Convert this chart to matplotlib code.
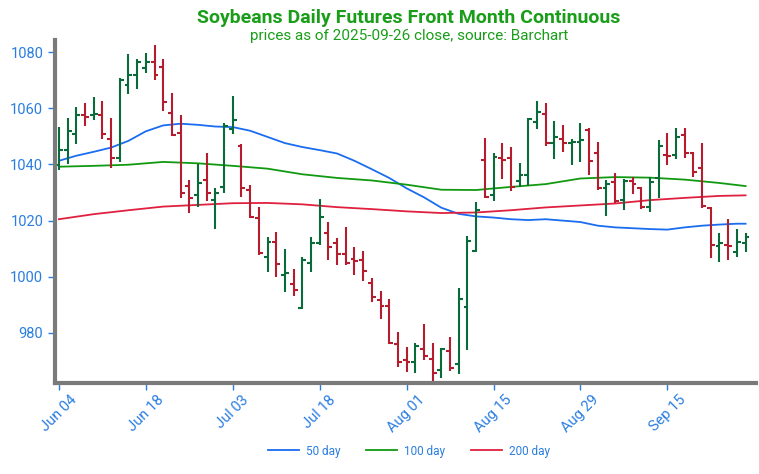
import matplotlib
matplotlib.use("Agg")
import matplotlib.pyplot as plt
import numpy as np

# ---- data ----
opens = [1039.8, 1045.1, 1050.8, 1057.6, 1057.5, 1057.6, 1049.2, 1042.2, 1068.3, 1071.8,
         1074.5, 1076.6, 1074.8, 1058.4, 1051.1, 1032.3, 1029.1, 1034.5, 1027.4, 1032.1,
         1052.5, 1046.7, 1030.9, 1020.8, 1007.2, 1012.5, 1000.7, 997.3, 988.8, 1005.0,
         1012.2, 1015.7, 1012.2, 1008.1, 1006.5, 1006.0, 997.7, 991.8, 989.6, 976.1,
         970.4, 969.8, 974.2, 970.8, 966.8, 973.6, 969.0, 989.4, 1009.2, 1041.6,
         1029.1, 1042.2, 1042.2, 1034.2, 1036.2, 1055.2, 1058.0, 1047.7, 1048.9, 1047.6,
         1048.1, 1052.4, 1044.0, 1031.5, 1033.9, 1027.3, 1034.2, 1031.5, 1024.7, 1035.0,
         1043.3, 1043.3, 1050.5, 1043.9, 1038.6, 1024.4, 1011.0, 1011.3, 1008.9, 1012.2]
highs = [1053.2, 1056.7, 1060.5, 1062.0, 1063.9, 1062.7, 1056.4, 1070.8, 1079.3, 1077.4,
         1079.8, 1082.5, 1077.4, 1065.5, 1057.6, 1034.5, 1040.2, 1044.2, 1031.5, 1054.6,
         1064.4, 1047.3, 1032.7, 1024.7, 1014.3, 1016.1, 1009.8, 1002.7, 1006.9, 1014.1,
         1027.6, 1019.6, 1013.7, 1017.9, 1010.7, 1009.3, 999.5, 995.1, 992.0, 980.5,
         974.9, 976.6, 983.2, 976.3, 974.8, 978.5, 995.9, 1014.5, 1026.7, 1049.3,
         1044.0, 1047.7, 1046.1, 1040.4, 1056.4, 1062.7, 1061.7, 1055.6, 1054.0, 1048.9,
         1054.9, 1052.9, 1048.1, 1034.5, 1037.1, 1034.7, 1035.4, 1032.1, 1035.6, 1048.7,
         1051.3, 1052.8, 1052.8, 1044.5, 1047.7, 1024.7, 1015.5, 1020.5, 1016.9, 1015.7]
lows = [1038.0, 1040.1, 1047.3, 1053.7, 1055.7, 1049.2, 1038.6, 1040.8, 1065.1, 1066.7,
        1072.4, 1070.0, 1059.1, 1050.1, 1028.2, 1022.8, 1024.7, 1027.1, 1016.9, 1029.7,
        1050.8, 1028.5, 1020.8, 1007.8, 1001.8, 999.8, 994.7, 993.2, 988.4, 1001.8,
        1011.3, 1006.0, 1004.2, 1004.2, 1000.6, 998.6, 991.2, 984.9, 976.1, 968.0,
        966.2, 965.9, 970.4, 962.1, 963.9, 966.6, 965.4, 973.9, 1008.9, 1027.9,
        1027.1, 1034.7, 1030.7, 1031.9, 1032.3, 1052.5, 1046.5, 1041.8, 1044.5, 1039.8,
        1041.0, 1036.2, 1030.9, 1021.6, 1026.4, 1023.8, 1029.5, 1024.0, 1023.2, 1027.9,
        1039.8, 1041.8, 1042.2, 1035.6, 1024.4, 1006.6, 1005.4, 1006.0, 1006.9, 1008.9]
closes = [1045.1, 1052.0, 1057.5, 1057.0, 1058.0, 1050.7, 1042.4, 1070.1, 1071.8, 1076.6,
          1076.6, 1071.8, 1062.3, 1050.5, 1029.7, 1027.9, 1033.3, 1029.7, 1029.7, 1053.7,
          1055.8, 1031.5, 1021.4, 1008.6, 1012.5, 1004.6, 1001.5, 995.3, 1006.0, 1012.2,
          1021.4, 1010.5, 1008.1, 1005.0, 1005.6, 1002.2, 992.7, 989.6, 976.3, 969.8,
          969.8, 975.5, 971.8, 965.9, 974.2, 967.4, 992.1, 1012.9, 1023.8, 1028.5,
          1042.8, 1041.6, 1032.1, 1036.2, 1056.0, 1058.8, 1047.7, 1049.6, 1047.7, 1048.1,
          1048.7, 1041.3, 1031.5, 1033.0, 1027.1, 1034.2, 1033.0, 1024.7, 1033.9, 1046.5,
          1043.0, 1049.9, 1043.9, 1037.4, 1025.2, 1011.3, 1011.9, 1011.0, 1012.5, 1014.1]

tick_pos = [0, 10, 20, 30, 40, 50, 60, 70]
tick_labels = ["Jun 04", "Jun 18", "Jul 03", "Jul 18", "Aug 01", "Aug 15", "Aug 29", "Sep 15"]
yticks = [980, 1000, 1020, 1040, 1060, 1080]

ma50_idx = [0, 2, 4, 6, 8, 10, 12, 14, 16, 18, 20, 22, 24, 26, 28, 30, 32, 34, 36, 38,
            40, 42, 44, 46, 48, 50, 52, 54, 56, 58, 60, 62, 64, 66, 68, 70, 72, 74, 76, 78, 79]
ma50 = [1041.3, 1043.1, 1044.5, 1046.0, 1048.4, 1051.8, 1053.9, 1054.5, 1054.1, 1053.5,
        1053.3, 1052.0, 1049.8, 1047.6, 1046.2, 1045.1, 1043.9, 1041.3, 1038.3, 1035.2,
        1031.5, 1028.3, 1024.6, 1022.4, 1021.5, 1021.1, 1020.5, 1020.2, 1020.5, 1020.0,
        1019.5, 1018.2, 1017.6, 1017.3, 1017.0, 1016.8, 1017.6, 1018.2, 1018.6, 1018.9, 1018.9]

ma_idx = [0, 4, 8, 12, 16, 20, 24, 28, 32, 36, 40, 44, 48, 52, 56, 60, 64, 68, 72, 76, 79]
ma100 = [1039.2, 1039.5, 1039.9, 1040.9, 1040.4, 1039.5, 1038.5, 1036.5, 1035.2, 1034.3,
         1032.8, 1031.0, 1030.9, 1032.0, 1033.0, 1035.0, 1035.5, 1035.3, 1034.6, 1033.4, 1032.3]
ma200 = [1020.5, 1022.3, 1023.7, 1025.0, 1025.6, 1026.2, 1026.3, 1025.8, 1024.8, 1024.1,
         1023.3, 1022.7, 1022.9, 1023.7, 1024.7, 1025.4, 1026.1, 1027.3, 1028.1, 1028.8, 1029.0]

# ---- style ----
GREEN_BAR = '#0a6b3a'
RED_BAR = '#b51d2e'
BLUE_TXT = '#2a7de1'
C50, C100, C200 = '#1a6cf0', '#119a11', '#e0203f'
TITLE_C = '#1a9e1a'

plt.rcParams['font.family'] = ['Roboto', 'DejaVu Sans']

fig = plt.figure(figsize=(7.59, 4.74), dpi=100)
W, H = 759, 474
ax = fig.add_axes([55 / W, 1 - 383 / H, (756 - 55) / W, (383 - 40) / H])

x = np.arange(len(closes))
ax.plot(ma50_idx, ma50, color=C50, lw=1.3, label='50 day', zorder=1)
ax.plot(ma_idx, ma100, color=C100, lw=1.3, label='100 day', zorder=1)
ax.plot(ma_idx, ma200, color=C200, lw=1.3, label='200 day', zorder=1)

cols = [GREEN_BAR if c >= o else RED_BAR for o, c in zip(opens, closes)]
ax.vlines(x, lows, highs, colors=cols, lw=1.5, zorder=2)
ax.hlines(opens, x - 0.45, x, colors=cols, lw=1.5, zorder=2)
ax.hlines(closes, x, x + 0.45, colors=cols, lw=1.5, zorder=2)

ax.set_xlim(-0.45, 80.2)
ax.set_ylim(962.2, 1084.3)
ax.set_yticks(yticks)
ax.set_xticks(tick_pos)
ax.set_xticklabels(tick_labels, rotation=45, ha='center')

for s in ['top', 'right']:
    ax.spines[s].set_visible(False)
for s in ['left', 'bottom']:
    ax.spines[s].set_color('#7a7a7a')
    ax.spines[s].set_linewidth(3)

ax.tick_params(axis='both', colors=BLUE_TXT, labelcolor=BLUE_TXT, labelsize=10.5,
               length=5, width=1)
ax.tick_params(axis='x', pad=2)

fig.text(409 / W, 1 - 18 / H, 'Soybeans Daily Futures Front Month Continuous',
         ha='center', va='center', fontsize=14, fontweight='bold', color=TITLE_C)
fig.text(409 / W, 1 - 36 / H, 'prices as of 2025-09-26 close, source: Barchart',
         ha='center', va='center', fontsize=11, color=TITLE_C)

fig.legend(loc='center', bbox_to_anchor=(409 / W, 1 - 451 / H), ncol=3, frameon=False,
           fontsize=8.5, labelcolor=BLUE_TXT, handlelength=2.6, columnspacing=2.2,
           handletextpad=0.6)

fig.savefig('out.png', dpi=100)
